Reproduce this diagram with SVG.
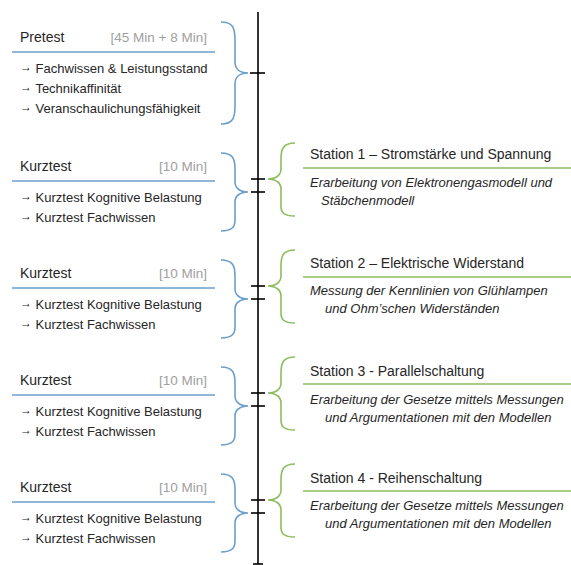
<svg xmlns="http://www.w3.org/2000/svg" width="571" height="565" viewBox="0 0 571 565">
<style>
text{font-family:"Liberation Sans",Arial,sans-serif;fill:#262626}
.t{font-size:14px}
.d{font-size:13.5px;fill:#a0a0a0}
.i{font-size:13px}
.a{font-size:12px}
.s{font-size:14px}
.e{font-size:13px;font-style:italic}
.bl{stroke:#6b9fcc;stroke-width:1.6;fill:none}
.gr{stroke:#8cbd5e;stroke-width:1.6;fill:none}
.ax{stroke:#000;stroke-width:1.6;fill:none}
</style>
<rect width="571" height="565" fill="#fff"/>
<g id="connectors">
<line class="ax" x1="258" y1="12" x2="258" y2="564"/>
<line class="ax" x1="253" y1="564" x2="263" y2="564"/>
<line class="ax" x1="250" y1="73" x2="265" y2="73"/>
<line class="ax" x1="251" y1="179" x2="265" y2="179"/>
<line class="ax" x1="251" y1="192" x2="265" y2="192"/>
<line class="ax" x1="251" y1="286" x2="265" y2="286"/>
<line class="ax" x1="251" y1="299" x2="265" y2="299"/>
<line class="ax" x1="251" y1="393" x2="265" y2="393"/>
<line class="ax" x1="251" y1="406" x2="265" y2="406"/>
<line class="ax" x1="251" y1="500" x2="265" y2="500"/>
<line class="ax" x1="251" y1="513" x2="265" y2="513"/>
</g>
<g id="pretest">
<text class="t" x="20" y="42">Pretest</text>
<text class="d" x="207" y="42" text-anchor="end">[45 Min + 8 Min]</text>
<line class="bl" x1="12" y1="52" x2="215" y2="52"/>
<text class="i" x="20" y="73"><tspan class="a" dy="-2">→</tspan><tspan dy="2"> Fachwissen &amp; Leistungsstand</tspan></text>
<text class="i" x="20" y="93"><tspan class="a" dy="-2">→</tspan><tspan dy="2"> Technikaffinität</tspan></text>
<text class="i" x="20" y="113"><tspan class="a" dy="-2">→</tspan><tspan dy="2"> Veranschaulichungsfähigkeit</tspan></text>
<path class="bl" d="M221,22 C233,22 235,28 235,40 L235,62 C235,69 240,73 248,73 C240,73 235,77 235,84 L235,106 C235,118 233,124 221,124"/>
</g>
<g id="kurztest1">
<text class="t" x="20" y="171">Kurztest</text>
<text class="d" x="207" y="171" text-anchor="end">[10 Min]</text>
<line class="bl" x1="12" y1="181" x2="215" y2="181"/>
<text class="i" x="20" y="202"><tspan class="a" dy="-2">→</tspan><tspan dy="2"> Kurztest Kognitive Belastung</tspan></text>
<text class="i" x="20" y="222"><tspan class="a" dy="-2">→</tspan><tspan dy="2"> Kurztest Fachwissen</tspan></text>
<path class="bl" d="M221,153 C233,153 235,159 235,169 L235,182 C235,188 240,192 248,192 C240,192 235,196 235,202 L235,220 C235,226 233,231 221,231"/>
</g>
<g id="kurztest2">
<text class="t" x="20" y="278">Kurztest</text>
<text class="d" x="207" y="278" text-anchor="end">[10 Min]</text>
<line class="bl" x1="12" y1="288" x2="215" y2="288"/>
<text class="i" x="20" y="309"><tspan class="a" dy="-2">→</tspan><tspan dy="2"> Kurztest Kognitive Belastung</tspan></text>
<text class="i" x="20" y="329"><tspan class="a" dy="-2">→</tspan><tspan dy="2"> Kurztest Fachwissen</tspan></text>
<path class="bl" d="M221,260 C233,260 235,266 235,276 L235,289 C235,295 240,299 248,299 C240,299 235,303 235,309 L235,327 C235,333 233,338 221,338"/>
</g>
<g id="kurztest3">
<text class="t" x="20" y="385">Kurztest</text>
<text class="d" x="207" y="385" text-anchor="end">[10 Min]</text>
<line class="bl" x1="12" y1="395" x2="215" y2="395"/>
<text class="i" x="20" y="416"><tspan class="a" dy="-2">→</tspan><tspan dy="2"> Kurztest Kognitive Belastung</tspan></text>
<text class="i" x="20" y="436"><tspan class="a" dy="-2">→</tspan><tspan dy="2"> Kurztest Fachwissen</tspan></text>
<path class="bl" d="M221,367 C233,367 235,373 235,383 L235,396 C235,402 240,406 248,406 C240,406 235,410 235,416 L235,434 C235,440 233,445 221,445"/>
</g>
<g id="kurztest4">
<text class="t" x="20" y="492">Kurztest</text>
<text class="d" x="207" y="492" text-anchor="end">[10 Min]</text>
<line class="bl" x1="12" y1="502" x2="215" y2="502"/>
<text class="i" x="20" y="523"><tspan class="a" dy="-2">→</tspan><tspan dy="2"> Kurztest Kognitive Belastung</tspan></text>
<text class="i" x="20" y="543"><tspan class="a" dy="-2">→</tspan><tspan dy="2"> Kurztest Fachwissen</tspan></text>
<path class="bl" d="M221,474 C233,474 235,480 235,490 L235,503 C235,509 240,513 248,513 C240,513 235,517 235,523 L235,541 C235,547 233,552 221,552"/>
</g>
<g id="station1">
<path class="gr" d="M295,143 C283,143 281,149 281,159 L281,169 C281,175 276,179 268,179 C276,179 281,183 281,189 L281,206 C281,212 283,216 295,216"/>
<text class="s" x="310" y="159">Station 1 – Stromstärke und Spannung</text>
<line class="gr" x1="303" y1="168" x2="571" y2="168"/>
<text class="e" x="310" y="187">Erarbeitung von Elektronengasmodell und</text>
<text class="e" x="321" y="205">Stäbchenmodell</text>
</g>
<g id="station2">
<path class="gr" d="M295,250 C283,250 281,256 281,266 L281,276 C281,282 276,286 268,286 C276,286 281,290 281,296 L281,313 C281,319 283,323 295,323"/>
<text class="s" x="310" y="268">Station 2 – Elektrische Widerstand</text>
<line class="gr" x1="303" y1="277" x2="571" y2="277"/>
<text class="e" x="310" y="295">Messung der Kennlinien von Glühlampen</text>
<text class="e" x="325" y="313">und Ohm’schen Widerständen</text>
</g>
<g id="station3">
<path class="gr" d="M295,357 C283,357 281,363 281,373 L281,383 C281,389 276,393 268,393 C276,393 281,397 281,403 L281,420 C281,426 283,430 295,430"/>
<text class="s" x="310" y="376">Station 3 - Parallelschaltung</text>
<line class="gr" x1="303" y1="384" x2="571" y2="384"/>
<text class="e" x="310" y="404">Erarbeitung der Gesetze mittels Messungen</text>
<text class="e" x="325" y="422">und Argumentationen mit den Modellen</text>
</g>
<g id="station4">
<path class="gr" d="M295,464 C283,464 281,470 281,480 L281,490 C281,496 276,500 268,500 C276,500 281,504 281,510 L281,527 C281,533 283,537 295,537"/>
<text class="s" x="310" y="483">Station 4 - Reihenschaltung</text>
<line class="gr" x1="303" y1="491" x2="571" y2="491"/>
<text class="e" x="310" y="510">Erarbeitung der Gesetze mittels Messungen</text>
<text class="e" x="325" y="528">und Argumentationen mit den Modellen</text>
</g>
</svg>
